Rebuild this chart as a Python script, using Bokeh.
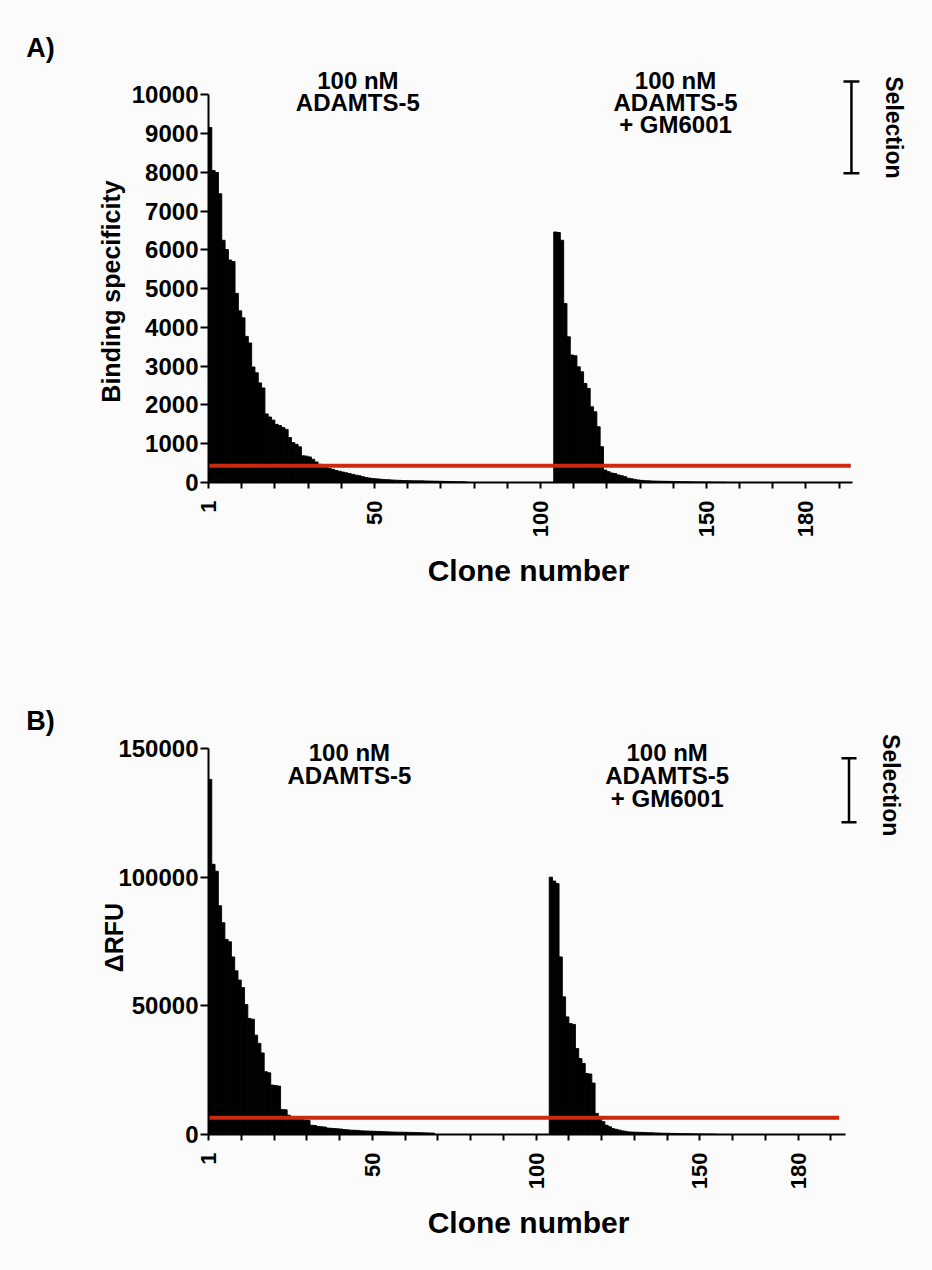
import math
from bokeh.plotting import figure
from bokeh.models import FixedTicker, Label, Range1d, NumeralTickFormatter
from bokeh.layouts import column
from bokeh.embed import file_html
from bokeh.resources import INLINE
from bokeh.core.properties import value

FONT = "Liberation Sans"
BG = "#fbfbfb"
RED = "#cc2a10"

# ---------------- data ----------------
# Panel A: binding specificity, clones sorted per selection
a_sel1 = [9160, 8050, 8000, 7450, 6250, 6010, 5740, 5700, 4880, 4430, 4250, 3770, 3600,
          2980, 2830, 2570, 2440, 1770, 1690, 1610, 1500, 1470, 1420, 1370, 1160, 1030,
          985, 920, 690, 680, 660, 600, 530, 470, 430, 410, 360, 340, 310, 290, 270, 250,
          230, 210, 190, 172, 150, 130, 115, 103, 95, 88, 80, 74, 69, 64, 60, 56, 52, 49,
          47, 45, 44, 43, 42, 40, 38, 36, 34, 32, 30, 28, 26, 24, 22, 20, 18, 15]
a_sel2 = [6464, 6450, 6250, 4620, 3760, 3290, 3270, 2985, 2856, 2556, 2428, 1954, 1825,
          1438, 923, 322, 280, 245, 230, 195, 175, 150, 110, 95, 80, 65, 55, 48, 44, 40,
          37, 35, 33, 31, 30, 28, 26, 24, 22, 20, 18, 16, 15, 14, 13, 12, 11, 10, 9, 8, 7, 6]
a_threshold = 430

# Panel B: delta RFU
b_sel1 = [138000, 105000, 102300, 88900, 82300, 75800, 74900, 69000, 63600, 60000, 57100,
          50500, 45100, 44800, 38600, 35400, 31700, 24400, 24000, 19200, 19000, 18800,
          9700, 9600, 7500, 6900, 6800, 6700, 6600, 5600, 5500, 3600, 3500, 3100, 3000,
          2900, 2500, 2400, 2300, 2200, 2100, 1900, 1800, 1700, 1650, 1600, 1450, 1400,
          1350, 1300, 1250, 1200, 1150, 1100, 1050, 1000, 950, 920, 900, 880, 850, 820,
          780, 740, 700, 660, 630, 600, 560]
b_sel2 = [100000, 98500, 97500, 69000, 53500, 45700, 43100, 42800, 33400, 29500, 27600,
          23700, 23500, 20000, 8200, 6200, 5000, 3600, 3000, 2300, 2000, 1700, 1400, 1200,
          1000, 950, 900, 850, 800, 750, 700, 650, 600, 560, 520, 480, 450, 420, 390, 360,
          330, 300, 280, 260, 240, 220, 200, 180, 160, 140, 120]
b_threshold = 6500

sel1_first_clone = 1
sel2_first_clone = 105
x_ticks = list(range(0, 191, 10))
x_tick_labels = {0: "1", 50: "50", 100: "100", 150: "150", 180: "180"}
a_y_ticks = list(range(0, 10001, 1000))
b_y_ticks = [0, 50000, 100000, 150000]
sel1_text = ["100 nM", "ADAMTS-5"]
sel2_text = ["100 nM", "ADAMTS-5", "+ GM6001"]


def canvas_label(p, side, x, y, text, size, angle=0.0):
    p.add_layout(Label(x=x, y=y, x_units="canvas", y_units="canvas", text=text,
                       text_font=FONT, text_font_style="bold", text_font_size=size,
                       text_align="center", text_baseline="middle", text_color="black",
                       angle=angle), side)


def style_axes(p, yticks, ybound, xbound):
    p.xgrid.visible = False
    p.ygrid.visible = False
    p.outline_line_color = None
    p.background_fill_color = BG
    p.border_fill_color = BG
    for ax in (p.xaxis, p.yaxis):
        ax.axis_line_width = 2
        ax.axis_line_color = "black"
        ax.major_tick_line_width = 2
        ax.major_tick_line_color = "black"
        ax.minor_tick_line_color = None
        ax.major_tick_in = 0
        ax.major_label_text_font = FONT
        ax.major_label_text_font_style = "bold"
        ax.major_label_text_color = "black"
    p.xaxis.ticker = FixedTicker(ticks=x_ticks)
    p.xaxis.major_label_overrides = {t: x_tick_labels.get(t, "") for t in x_ticks}
    p.xaxis.major_label_orientation = math.pi / 2
    p.xaxis.major_tick_out = 6
    p.xaxis.major_label_standoff = 12
    p.xaxis.major_label_text_font_size = "22px"
    p.xaxis.bounds = xbound
    p.yaxis.ticker = FixedTicker(ticks=yticks)
    p.yaxis.formatter = NumeralTickFormatter(format="0")
    p.yaxis.major_tick_out = 8
    p.yaxis.major_label_standoff = 2
    p.yaxis.major_label_text_font_size = "24px"
    p.yaxis.bounds = ybound


def draw_panel(p, sel1, sel2, thr, red_end, ann1, ann2, bracket, sel_pos):
    x1 = [sel1_first_clone + i - 0.5 for i in range(len(sel1))]
    x2 = [sel2_first_clone + i - 0.5 for i in range(len(sel2))]
    p.vbar(x=x1 + x2, top=sel1 + sel2, width=1.0, bottom=0,
           fill_color="black", line_color="black", line_width=0.9)
    p.segment(x0=[0], y0=[thr], x1=[red_end], y1=[thr], line_color=RED, line_width=4)
    for (xc, ys), lines in ((ann1, sel1_text), (ann2, sel2_text)):
        p.text(x=[xc] * len(lines), y=ys, text=lines, text_font=value(FONT),
               text_font_style="bold", text_font_size="24px", text_align="center",
               text_baseline="middle", text_color="black")
    bx, by0, by1, cap = bracket
    p.segment(x0=[bx, bx - cap, bx - cap], y0=[by0, by0, by1],
              x1=[bx, bx + cap, bx + cap], y1=[by1, by0, by1],
              line_color="black", line_width=2.5)
    p.text(x=[sel_pos[0]], y=[sel_pos[1]], text=["Selection"], angle=-math.pi / 2,
           text_font=value(FONT), text_font_style="bold", text_font_size="23px",
           text_align="center", text_baseline="middle", text_color="black")


pA = figure(width=932, height=640, output_backend="svg", toolbar_location=None, title=None,
            x_range=Range1d(0, 213), y_range=Range1d(0, 11405),
            min_border_left=208, min_border_right=17, min_border_top=40, min_border_bottom=158)
style_axes(pA, a_y_ticks, (0, 10000), (0, 194))
draw_panel(pA, a_sel1, a_sel2, a_threshold, 193.5,
           (45, [10374, 9807]), (140.7, [10374, 9807, 9240]),
           (193.7, 7977, 10347, 2.4), (206.4, 9163))
canvas_label(pA, "left", 40, 47, "A)", "27px")
canvas_label(pA, "left", 110, 291, "Binding specificity", "25px", math.pi / 2)
canvas_label(pA, "below", 528, 570, "Clone number", "30px")

pB = figure(width=932, height=630, output_backend="svg", toolbar_location=None, title=None,
            x_range=Range1d(0, 215.8), y_range=Range1d(0, 164767),
            min_border_left=203, min_border_right=17, min_border_top=70, min_border_bottom=136)
style_axes(pB, b_y_ticks, (0, 150000), (0, 194.5))
draw_panel(pB, b_sel1, b_sel2, b_threshold, 192.5,
           (43, [148562, 139624]), (140, [148562, 139624, 130686]),
           (195.5, 121357, 146192, 2.3), (208.2, 135738))
canvas_label(pB, "left", 40, 80, "B)", "27px")
canvas_label(pB, "left", 113, 297, "ΔRFU", "25px", math.pi / 2)
canvas_label(pB, "below", 528, 582, "Clone number", "30px")

layout = column(pA, pB, spacing=0)
layout.styles = {"background-color": BG}
open("out.html", "w").write(file_html(layout, INLINE))
